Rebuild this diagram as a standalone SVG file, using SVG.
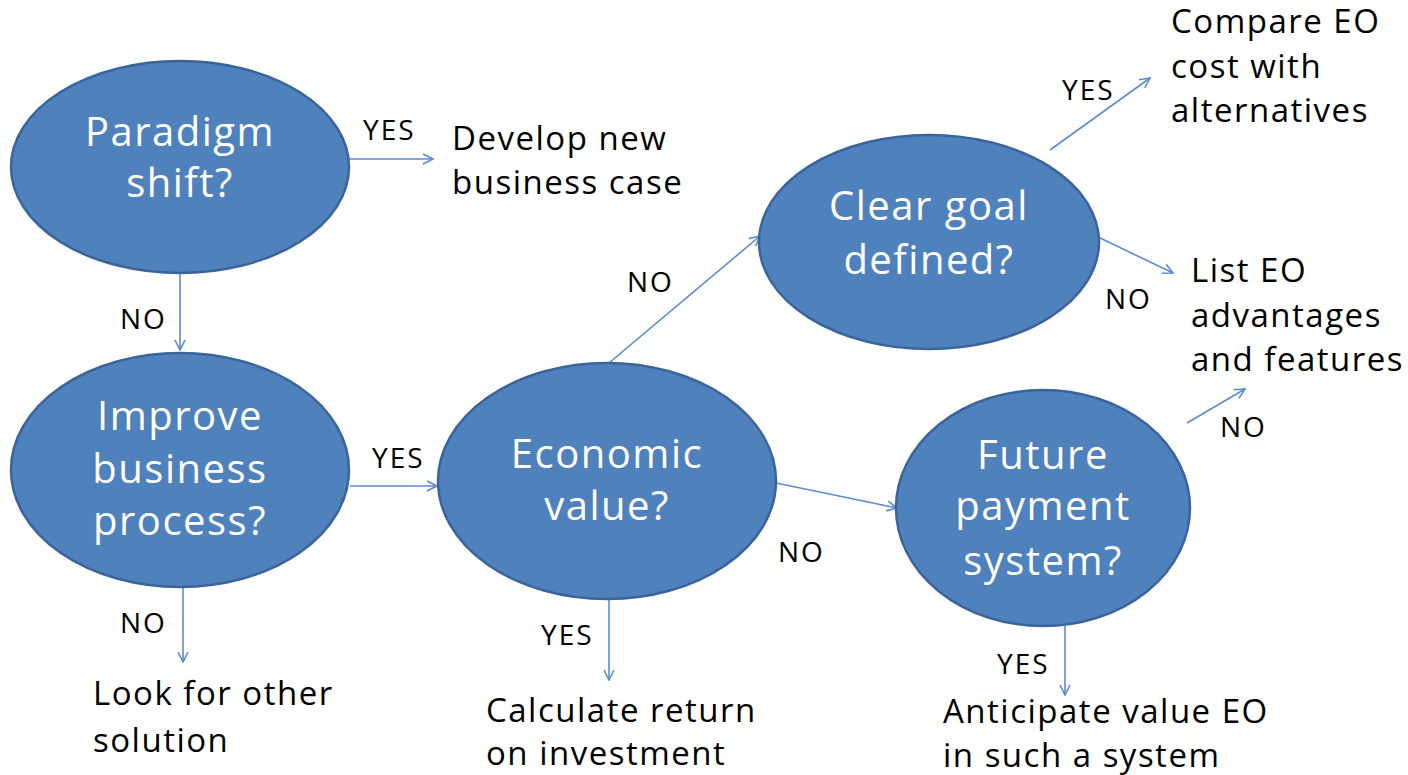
<svg xmlns="http://www.w3.org/2000/svg" width="1408" height="775" viewBox="0 0 1408 775">
<defs>
<style>
.node{fill:#4F81BD;stroke:#3A649A;stroke-width:2.5}
.nt{font-family:"Open Sans","Liberation Sans",sans-serif;font-size:40px;fill:#FFFFFF;text-anchor:middle;letter-spacing:1.5px}
.lb{font-family:"Open Sans","Liberation Sans",sans-serif;font-size:28px;fill:#000000;letter-spacing:2px}
.tx{font-family:"Open Sans","Liberation Sans",sans-serif;font-size:33px;fill:#000000;letter-spacing:1.5px}
.cn{stroke:#5B8BD0;stroke-width:1.6;fill:none;marker-end:url(#ah)}
</style>
<marker id="ah" viewBox="0 0 12 12" refX="11" refY="6" markerWidth="12" markerHeight="12" markerUnits="userSpaceOnUse" orient="auto">
<path d="M1,1 L11,6 L1,11" fill="none" stroke="#5B8BD0" stroke-width="1.6"/>
</marker>
</defs>
<rect width="1408" height="775" fill="#FFFFFF"/>
<g id="connectors">
<line class="cn" x1="349" y1="159" x2="433" y2="159"/>
<line class="cn" x1="180" y1="273" x2="180" y2="350"/>
<line class="cn" x1="350" y1="486" x2="437" y2="486"/>
<line class="cn" x1="183" y1="587" x2="183" y2="662"/>
<line class="cn" x1="609" y1="363" x2="760" y2="236"/>
<line class="cn" x1="776" y1="483" x2="897" y2="508"/>
<line class="cn" x1="609" y1="600" x2="609" y2="680"/>
<line class="cn" x1="1050" y1="150" x2="1150" y2="78"/>
<line class="cn" x1="1098" y1="237" x2="1173" y2="273"/>
<line class="cn" x1="1187" y1="423" x2="1245" y2="389"/>
<line class="cn" x1="1065" y1="626" x2="1065" y2="695"/>
</g>
<g id="n1">
<ellipse class="node" cx="180" cy="167" rx="169" ry="106"/>
<text class="nt" x="180" y="146">Paradigm</text>
<text class="nt" x="180" y="197">shift?</text>
</g>
<g id="n2">
<ellipse class="node" cx="180" cy="470" rx="169" ry="117"/>
<text class="nt" x="180" y="430">Improve</text>
<text class="nt" x="180" y="483">business</text>
<text class="nt" x="180" y="535">process?</text>
</g>
<g id="n3">
<ellipse class="node" cx="607" cy="481" rx="169" ry="118"/>
<text class="nt" x="607" y="468">Economic</text>
<text class="nt" x="607" y="520">value?</text>
</g>
<g id="n4">
<ellipse class="node" cx="929" cy="242" rx="170" ry="107"/>
<text class="nt" x="929" y="220">Clear goal</text>
<text class="nt" x="929" y="274">defined?</text>
</g>
<g id="n5">
<ellipse class="node" cx="1043" cy="508" rx="147" ry="118"/>
<text class="nt" x="1043" y="469">Future</text>
<text class="nt" x="1043" y="520">payment</text>
<text class="nt" x="1043" y="575">system?</text>
</g>
<g id="labels">
<text class="lb" x="363" y="140">YES</text>
<text class="lb" x="120" y="329">NO</text>
<text class="lb" x="372" y="468">YES</text>
<text class="lb" x="120" y="633">NO</text>
<text class="lb" x="541" y="645">YES</text>
<text class="lb" x="778" y="562">NO</text>
<text class="lb" x="627" y="292">NO</text>
<text class="lb" x="1062" y="100">YES</text>
<text class="lb" x="1105" y="309">NO</text>
<text class="lb" x="1220" y="437">NO</text>
<text class="lb" x="997" y="674">YES</text>
</g>
<g id="outcomes">
<text class="tx" x="452" y="150">Develop new</text>
<text class="tx" x="452" y="194">business case</text>
<text class="tx" x="93" y="705">Look for other</text>
<text class="tx" x="93" y="752">solution</text>
<text class="tx" x="486" y="722">Calculate return</text>
<text class="tx" x="486" y="765">on investment</text>
<text class="tx" x="1171" y="33">Compare EO</text>
<text class="tx" x="1171" y="78">cost with</text>
<text class="tx" x="1171" y="122">alternatives</text>
<text class="tx" x="1191" y="282">List EO</text>
<text class="tx" x="1191" y="327">advantages</text>
<text class="tx" x="1191" y="371">and features</text>
<text class="tx" x="943" y="723">Anticipate value EO</text>
<text class="tx" x="943" y="767">in such a system</text>
</g>
</svg>
